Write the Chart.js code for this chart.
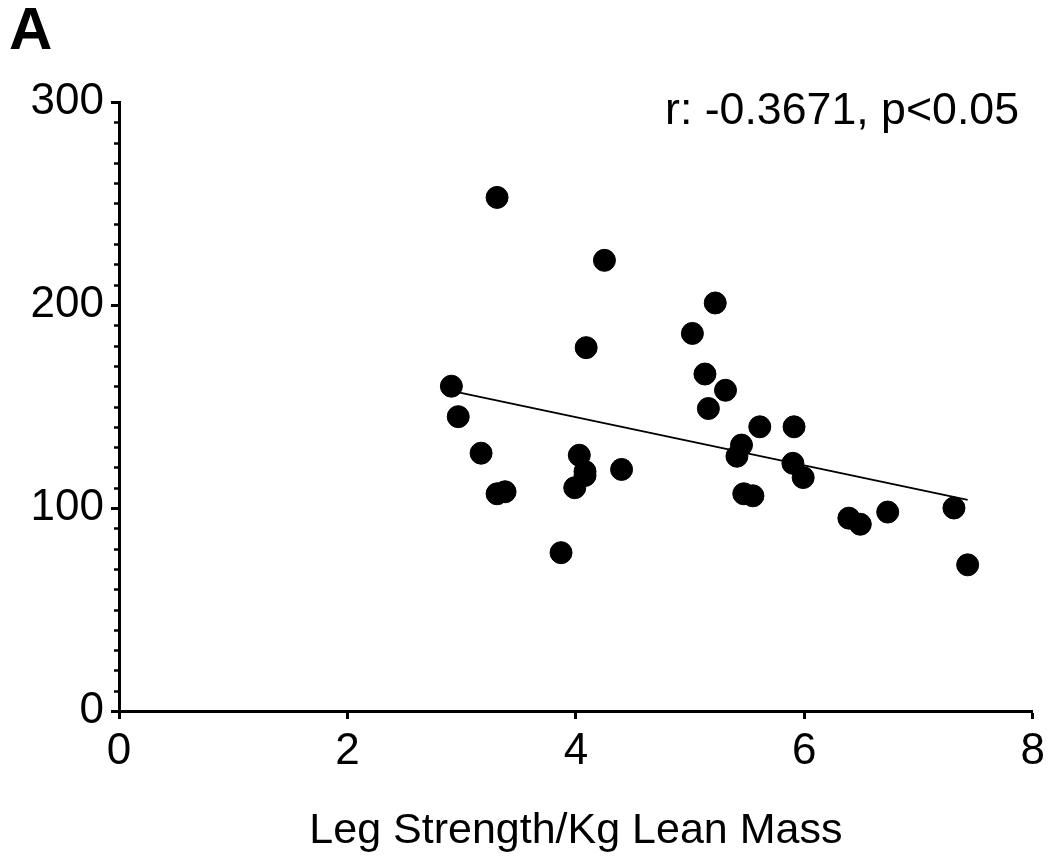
<!DOCTYPE html>
<html>
<head>
<meta charset="utf-8">
<script src="https://cdn.jsdelivr.net/npm/chart.js@4.4.1/dist/chart.umd.min.js"></script>
<style>
  html, body { margin: 0; padding: 0; background: #fff; }
  #wrap { width: 1051px; height: 857px; position: relative; }
</style>
</head>
<body>
<div id="wrap"><canvas id="c" width="1051" height="857"></canvas></div>
<script>
// ---- data ----
const xValues = [2.91, 2.97, 3.17, 3.31, 3.38, 3.31, 3.87, 3.99, 4.03, 4.08, 4.08, 4.09, 4.25, 4.40, 5.02, 5.13,
                 5.16, 5.22, 5.31, 5.41, 5.45, 5.47, 5.55, 5.61, 5.90, 5.91, 5.99, 6.39, 6.49, 6.73, 7.31, 7.43];
const yValues = [160, 145, 127, 107, 108, 253, 78, 110, 126, 118, 116, 179, 222, 119, 186, 166,
                 149, 201, 158, 125.5, 131, 107, 106, 140, 122, 140, 115, 95, 92, 98, 100, 72];
const trendX = [2.91, 7.43];
const trendY = [157.7, 104];
const xTicks = [0, 2, 4, 6, 8];
const yTicks = [0, 100, 200, 300];
const panelLabel = 'A';
const statsLabel = 'r: -0.3671, p<0.05';
const xAxisTitle = 'Leg Strength/Kg Lean Mass';

const FONT = '"Liberation Sans", Arial, Helvetica, sans-serif';

const scatterData = xValues.map((x, i) => ({ x: x, y: yValues[i] }));
const trendData = trendX.map((x, i) => ({ x: x, y: trendY[i] }));

const extras = {
  id: 'extras',
  afterDraw(chart) {
    const ctx = chart.ctx;
    const ys = chart.scales.y;
    const left = chart.chartArea.left;
    ctx.save();
    // minor ticks on y axis
    ctx.strokeStyle = '#000';
    ctx.lineWidth = 2.5;
    for (let v = 10; v < 300; v += 10) {
      if (v % 100 === 0) continue;
      const py = Math.round(ys.getPixelForValue(v)) + 0.5;
      ctx.beginPath();
      ctx.moveTo(left - 5, py);
      ctx.lineTo(left, py);
      ctx.stroke();
    }
    // texts
    ctx.fillStyle = '#000';
    ctx.textBaseline = 'alphabetic';
    ctx.textAlign = 'left';
    ctx.font = 'bold 60px ' + FONT;
    ctx.fillText(panelLabel, 9, 49);
    ctx.font = '44.7px ' + FONT;
    ctx.fillText(statsLabel, 665, 124);
    ctx.restore();
  }
};

new Chart(document.getElementById('c'), {
  type: 'scatter',
  data: {
    datasets: [
      {
        type: 'scatter',
        data: scatterData,
        backgroundColor: '#000',
        borderColor: '#000',
        borderWidth: 1,
        pointRadius: 11,
        pointHoverRadius: 11
      },
      {
        type: 'line',
        data: trendData,
        borderColor: '#000',
        borderWidth: 2,
        pointRadius: 0,
        fill: false,
        tension: 0
      }
    ]
  },
  options: {
    responsive: false,
    animation: false,
    events: [],
    layout: { padding: { left: 0, right: 16, top: 102, bottom: 0 } },
    plugins: { legend: { display: false }, tooltip: { enabled: false } },
    scales: {
      x: {
        type: 'linear',
        min: 0, max: 8,
        afterBuildTicks: (s) => { s.ticks = xTicks.map(v => ({ value: v })); },
        afterFit: (s) => { s.height = 146; },
        grid: { drawOnChartArea: false, drawTicks: true, tickLength: 8, tickWidth: 3, tickColor: '#000', color: '#000' },
        border: { display: true, color: '#000', width: 3 },
        ticks: { color: '#000', font: { family: FONT, size: 44 }, padding: 6, maxRotation: 0 },
        title: { display: true, text: xAxisTitle, color: '#000', font: { family: FONT, size: 43 }, padding: { top: 0, bottom: 0 } }
      },
      y: {
        type: 'linear',
        min: 0, max: 300,
        afterBuildTicks: (s) => { s.ticks = yTicks.map(v => ({ value: v })); },
        afterFit: (s) => { s.width = 119; },
        grid: { drawOnChartArea: false, drawTicks: true, tickLength: 8, tickWidth: 3, tickColor: '#000', color: '#000' },
        border: { display: true, color: '#000', width: 3 },
        ticks: { color: '#000', font: { family: FONT, size: 44 }, padding: 7 }
      }
    }
  },
  plugins: [extras]
});
</script>
</body>
</html>
